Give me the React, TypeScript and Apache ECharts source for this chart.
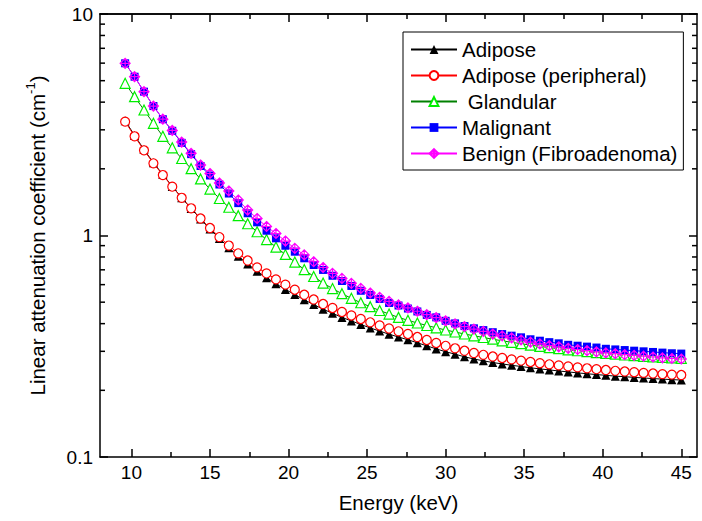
import React, { useEffect, useRef } from "react";
import * as echarts from "echarts";

// Energy (keV)
const energy = [
  9.6, 10.2, 10.8, 11.4, 12.0, 12.6, 13.2, 13.8, 14.4, 15.0,
  15.6, 16.2, 16.8, 17.4, 18.0, 18.6, 19.2, 19.8, 20.4, 21.0,
  21.6, 22.2, 22.8, 23.4, 24.0, 24.6, 25.2, 25.8, 26.4, 27.0,
  27.6, 28.2, 28.8, 29.4, 30.0, 30.6, 31.2, 31.8, 32.4, 33.0,
  33.6, 34.2, 34.8, 35.4, 36.0, 36.6, 37.2, 37.8, 38.4, 39.0,
  39.6, 40.2, 40.8, 41.4, 42.0, 42.6, 43.2, 43.8, 44.4, 45.0,
];

const adipose = [
  3.299, 2.831, 2.445, 2.132, 1.885, 1.666, 1.481, 1.324, 1.187, 1.070,
  0.969, 0.881, 0.806, 0.744, 0.689, 0.644, 0.605, 0.571, 0.541, 0.5126,
  0.4875, 0.4648, 0.4454, 0.4268, 0.4116, 0.3964, 0.3826, 0.3702, 0.3584, 0.3481,
  0.3382, 0.3278, 0.3177, 0.3076, 0.2988, 0.2912, 0.2834, 0.2770, 0.2718, 0.2670,
  0.2632, 0.2594, 0.2562, 0.2528, 0.2499, 0.2473, 0.2445, 0.2422, 0.2397, 0.2377,
  0.2355, 0.2338, 0.2318, 0.2304, 0.2288, 0.2274, 0.2259, 0.2247, 0.2235, 0.2226,
];

const adiposePeripheral = [
  3.265, 2.805, 2.425, 2.118, 1.875, 1.661, 1.480, 1.327, 1.193, 1.081,
  0.984, 0.901, 0.831, 0.771, 0.718, 0.674, 0.634, 0.600, 0.569, 0.540,
  0.514, 0.4906, 0.4707, 0.4515, 0.4354, 0.4198, 0.4056, 0.3924, 0.3803, 0.3694,
  0.3592, 0.3481, 0.3375, 0.3272, 0.3177, 0.3096, 0.3017, 0.2948, 0.2893, 0.2842,
  0.2799, 0.2758, 0.2721, 0.2685, 0.2651, 0.2621, 0.2591, 0.2564, 0.2538, 0.2515,
  0.2491, 0.2470, 0.2450, 0.2432, 0.2414, 0.2397, 0.2382, 0.2367, 0.2355, 0.2345,
];

const glandular = [
  4.866, 4.233, 3.687, 3.210, 2.805, 2.488, 2.226, 2.003, 1.800, 1.621,
  1.469, 1.341, 1.229, 1.130, 1.040, 0.959, 0.887, 0.821, 0.759, 0.702,
  0.653, 0.610, 0.576, 0.546, 0.5205, 0.497, 0.477, 0.4586, 0.442, 0.427,
  0.414, 0.4027, 0.3924, 0.3831, 0.3744, 0.3667, 0.3592, 0.3525, 0.3463, 0.3402,
  0.3346, 0.3295, 0.3247, 0.320, 0.3157, 0.3118, 0.3083, 0.3048, 0.3017, 0.2988,
  0.2960, 0.2936, 0.2912, 0.2887, 0.2866, 0.2848, 0.2830, 0.2815, 0.2801, 0.2789,
];

const malignant = [
  5.99, 5.21, 4.46, 3.84, 3.35, 2.97, 2.62, 2.33, 2.06, 1.866,
  1.699, 1.547, 1.40, 1.26, 1.147, 1.051, 0.971, 0.899, 0.845, 0.789,
  0.736, 0.699, 0.658, 0.623, 0.592, 0.563, 0.539, 0.517, 0.496, 0.483,
  0.468, 0.454, 0.438, 0.427, 0.412, 0.401, 0.390, 0.381, 0.374, 0.366,
  0.359, 0.353, 0.347, 0.340, 0.335, 0.330, 0.326, 0.321, 0.318, 0.315,
  0.312, 0.308, 0.306, 0.304, 0.302, 0.300, 0.298, 0.296, 0.294, 0.293,
];

const benign = [
  5.99, 5.21, 4.46, 3.84, 3.35, 2.98, 2.64, 2.35, 2.08, 1.905,
  1.726, 1.588, 1.446, 1.303, 1.193, 1.098, 1.021, 0.944, 0.875, 0.817,
  0.761, 0.717, 0.675, 0.640, 0.608, 0.577, 0.550, 0.526, 0.504, 0.486,
  0.471, 0.455, 0.439, 0.426, 0.412, 0.399, 0.388, 0.378, 0.369, 0.359,
  0.352, 0.345, 0.3375, 0.330, 0.324, 0.318, 0.3145, 0.3096, 0.3058, 0.302,
  0.2985, 0.2951, 0.2927, 0.290, 0.2875, 0.2851, 0.2828, 0.2804, 0.2784, 0.277,
];

const seriesNames = [
  "Adipose",
  "Adipose (peripheral)",
  " Glandular",
  "Malignant",
  "Benign (Fibroadenoma)",
];

const xRange = [8, 46];
const yRange = [0.1, 10];
const xMajorTicks = [10, 15, 20, 25, 30, 35, 40, 45];
const xMinorTicks = [12.5, 17.5, 22.5, 27.5, 32.5, 37.5, 42.5];
const yMinorTicks = [0.2, 0.3, 0.4, 0.5, 0.6, 0.7, 0.8, 0.9, 2, 3, 4, 5, 6, 7, 8, 9];

const FONT = "'Liberation Sans', Arial, Helvetica, sans-serif";
const BLACK = "#000";
const AXIS_W = 1.5;
const MAJOR_LEN = 8;
const MINOR_LEN = 5;
const TICK_FONT = 19;
const TITLE_FONT = 20.5;

const diamondPlus = "path://M0,-5L5,0L0,5L-5,0Z M0,-5L0,5 M-5,0L5,0";

function xAxisDef(position: string, ticks: number[], len: number, main: boolean) {
  return {
    type: "value",
    position,
    min: xRange[0],
    max: xRange[1],
    name: main ? "Energy (keV)" : "",
    nameLocation: "middle",
    nameGap: 35,
    nameTextStyle: { fontSize: TITLE_FONT, fontFamily: FONT, color: BLACK },
    axisLine: { show: main || position === "top", onZero: false, lineStyle: { color: BLACK, width: AXIS_W } },
    axisTick: {
      show: true,
      inside: true,
      length: len,
      customValues: ticks,
      lineStyle: { color: BLACK, width: AXIS_W },
    },
    axisLabel: {
      show: main,
      customValues: ticks,
      margin: 6,
      color: BLACK,
      fontSize: TICK_FONT,
      fontFamily: FONT,
    },
    splitLine: { show: false },
  };
}

function yAxisDef(position: string, main: boolean) {
  return {
    type: "log",
    logBase: 10,
    position,
    min: yRange[0],
    max: yRange[1],
    name: main ? "Linear attenuation coefficient (cm{sup|-1})" : "",
    nameLocation: "middle",
    nameGap: 50,
    nameTextStyle: {
      fontSize: TITLE_FONT,
      fontFamily: FONT,
      color: BLACK,
      lineHeight: 26,
      rich: {
        sup: { fontSize: 13, fontFamily: FONT, color: BLACK, verticalAlign: "top", lineHeight: 13 },
      },
    },
    axisLine: { show: true, onZero: false, lineStyle: { color: BLACK, width: AXIS_W } },
    axisTick: { show: true, inside: true, length: MAJOR_LEN, lineStyle: { color: BLACK, width: AXIS_W } },
    axisLabel: {
      show: main,
      margin: 7,
      color: BLACK,
      fontSize: TICK_FONT,
      fontFamily: FONT,
      formatter: (v: number) => String(v),
    },
    splitLine: { show: false },
    minorTick: { show: false },
  };
}

function pairs(ys: number[]) {
  return energy.map((x, i) => [x, ys[i]]);
}

export default function App() {
  const ref = useRef<HTMLDivElement>(null);

  useEffect(() => {
    if (!ref.current) return;
    const chart = echarts.init(ref.current, undefined, { renderer: "svg" });

    const common = { type: "line", xAxisIndex: 0, yAxisIndex: 0, emphasis: { disabled: true }, z: 3 };

    const option: any = {
      animation: false,
      backgroundColor: "#fff",
      grid: { left: 100, right: 5, top: 14, bottom: 64 },
      xAxis: [
        xAxisDef("bottom", xMajorTicks, MAJOR_LEN, true),
        xAxisDef("bottom", xMinorTicks, MINOR_LEN, false),
        xAxisDef("top", xMajorTicks, MAJOR_LEN, false),
        xAxisDef("top", xMinorTicks, MINOR_LEN, false),
      ],
      yAxis: [yAxisDef("left", true), yAxisDef("right", false)],
      legend: {
        data: seriesNames,
        orient: "vertical",
        left: 403,
        top: 32,
        itemWidth: 46,
        itemHeight: 11,
        itemGap: 5,
        padding: [7, 6, 6, 7],
        borderColor: BLACK,
        borderWidth: 1,
        backgroundColor: "#fff",
        selectedMode: false,
        textStyle: { fontSize: TITLE_FONT, fontFamily: FONT, color: BLACK, lineHeight: 20.5 },
      },
      series: [
        {
          type: "custom",
          name: "yMinorTicks",
          silent: true,
          clip: false,
          xAxisIndex: 0,
          yAxisIndex: 0,
          z: 5,
          data: yMinorTicks.map((v) => [xRange[0], v]),
          renderItem: (_params: any, api: any) => {
            const v = api.value(1);
            const l = api.coord([xRange[0], v]);
            const r = api.coord([xRange[1], v]);
            return {
              type: "group",
              children: [
                { type: "line", shape: { x1: l[0], y1: l[1], x2: l[0] + MINOR_LEN, y2: l[1] }, style: { stroke: BLACK, lineWidth: AXIS_W } },
                { type: "line", shape: { x1: r[0] - MINOR_LEN, y1: r[1], x2: r[0], y2: r[1] }, style: { stroke: BLACK, lineWidth: AXIS_W } },
              ],
            };
          },
        },
        {
          ...common,
          name: seriesNames[0],
          data: pairs(adipose),
          symbol: "triangle",
          symbolSize: 9,
          lineStyle: { color: "#000", width: 1 },
          itemStyle: { color: "#000" },
        },
        {
          ...common,
          name: seriesNames[1],
          data: pairs(adiposePeripheral),
          symbol: "circle",
          symbolSize: 9,
          lineStyle: { color: "#ff0000", width: 1 },
          itemStyle: { color: "#fff", borderColor: "#ff0000", borderWidth: 1.2 },
        },
        {
          ...common,
          name: seriesNames[2],
          data: pairs(glandular),
          symbol: "triangle",
          symbolSize: 10,
          lineStyle: { color: "#008000", width: 1 },
          itemStyle: { color: "#fff", borderColor: "#00ee00", borderWidth: 1.2 },
        },
        {
          ...common,
          name: seriesNames[3],
          data: pairs(malignant),
          symbol: "rect",
          symbolSize: 8,
          lineStyle: { color: "#0000ff", width: 1 },
          itemStyle: { color: "#0000ff" },
        },
        {
          ...common,
          name: seriesNames[4],
          data: pairs(benign),
          symbol: diamondPlus,
          symbolSize: 10,
          lineStyle: { color: "#ff00ff", width: 1 },
          itemStyle: { color: "rgba(255,255,255,0)", borderColor: "#ff00ff", borderWidth: 1.2 },
        },
      ],
    };

    chart.setOption(option);
    return () => chart.dispose();
  }, []);

  return (
    <div
      ref={ref}
      style={{ position: "absolute", left: 0, top: 0, width: 702, height: 521, background: "#fff" }}
    />
  );
}
